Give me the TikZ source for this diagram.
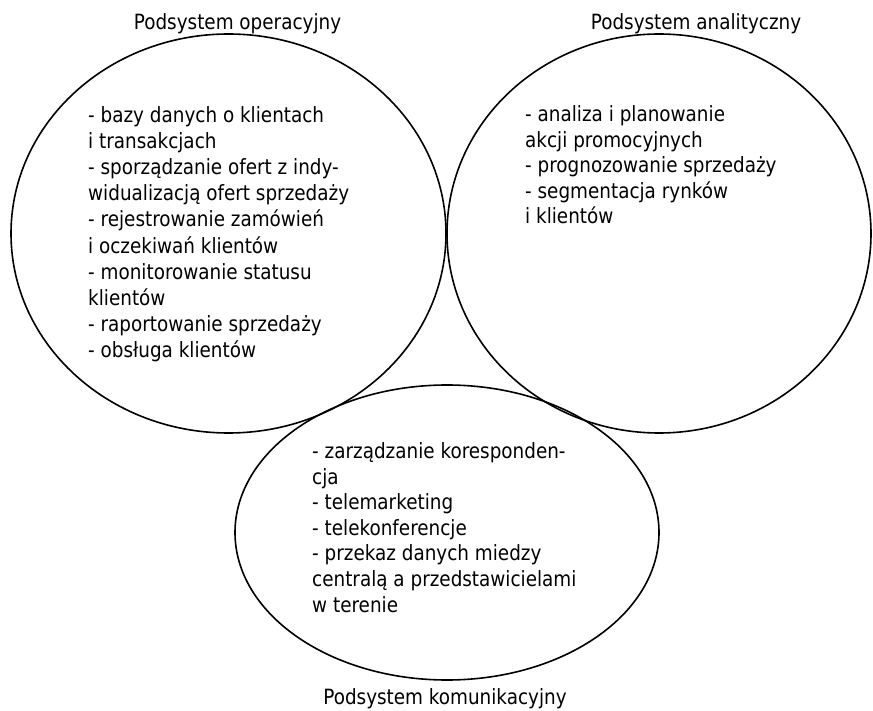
\documentclass[tikz,border=0pt]{standalone}
\usepackage{fontspec}
\setmainfont{DejaVu Sans}[FakeStretch=0.875]
\begin{document}
\begin{tikzpicture}[x=1pt,y=-1pt,
  ring/.style={draw=black, line width=1.6pt},
  title/.style={font=\fontsize{21}{26}\selectfont, inner sep=0pt, anchor=base},
  items/.style={font=\fontsize{21}{25.6}\selectfont, align=left, inner sep=0pt, anchor=base west}]
\useasboundingbox (0,0) rectangle (873,711);
\draw[ring] (228.5,233.5) ellipse [x radius=217.5, y radius=199.5];
\draw[ring] (659,233.5) ellipse [x radius=212, y radius=199.5];
\draw[ring] (447,532.5) ellipse [x radius=212, y radius=147.5];
\node[title] (top1) at (237.5,30) {Podsystem operacyjny};
\node[title] (top2) at (696,30) {Podsystem analityczny};
\node[title] (top3) at (445,704) {Podsystem komunikacyjny};
\node[items, font=\fontsize{21}{26.2}\selectfont] (opitems) at (88,358) {- bazy danych o klientach\\
i transakcjach\\
- sporządzanie ofert z indy-\\
widualizacją ofert sprzedaży\\
- rejestrowanie zamówień\\
i oczekiwań klientów\\
- monitorowanie statusu\\
klientów\\
- raportowanie sprzedaży\\
- obsługa klientów};
\node[items] (anitems) at (525,224) {- analiza i planowanie\\
akcji promocyjnych\\
- prognozowanie sprzedaży\\
- segmentacja rynków\\
i klientów};
\node[items] (komitems) at (312,612) {- zarządzanie koresponden-\\
cja\\
- telemarketing\\
- telekonferencje\\
- przekaz danych miedzy\\
centralą a przedstawicielami\\
w terenie};
\end{tikzpicture}
\end{document}
